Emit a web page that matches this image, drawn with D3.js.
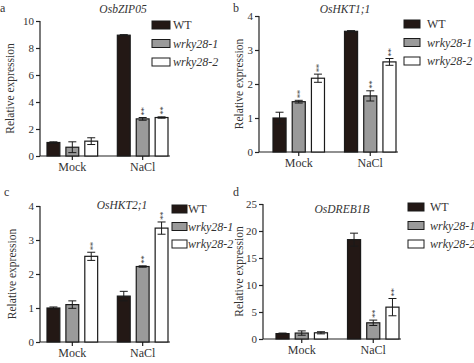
<!DOCTYPE html>
<html lang="en">
<head>
<meta charset="UTF-8">
<title>Relative expression panels</title>
<script src="https://cdn.jsdelivr.net/npm/d3@7/dist/d3.min.js"></script>
<style>
  body { margin: 0; background: #fff; }
  svg text { font-family: "Liberation Serif", "DejaVu Serif", serif; fill: #333; }
</style>
</head>
<body>
<script>
// shared categories
var groups = ["Mock", "NaCl"];
var series = ["WT", "wrky28-1", "wrky28-2"];
var titles = ["OsbZIP05", "OsHKT1;1", "OsHKT2;1", "OsDREB1B"];
var letters = ["a", "b", "c", "d"];

// means, in order Mock(WT, w1, w2), NaCl(WT, w1, w2)
var aMean = [1.0, 0.65, 1.1, 8.95, 2.75, 2.85];
var aErr  = [0.05, 0.4, 0.25, 0.04, 0.1, 0.05];
var aSig  = [0, 0, 0, 0, 1, 1];

var bMean = [1.0, 1.48, 2.17, 3.55, 1.65, 2.65];
var bErr  = [0.17, 0.04, 0.12, 0.02, 0.15, 0.1];
var bSig  = [0, 1, 1, 0, 1, 1];

var cMean = [1.0, 1.1, 2.52, 1.35, 2.22, 3.35];
var cErr  = [0.03, 0.11, 0.12, 0.14, 0.02, 0.18];
var cSig  = [0, 0, 1, 0, 1, 1];

var dMean = [1.0, 1.1, 1.15, 18.4, 3.0, 5.9];
var dErr  = [0.1, 0.4, 0.2, 1.2, 0.5, 1.6];
var dSig  = [0, 0, 0, 0, 1, 1];

var yMax   = [10, 4, 4, 25];
var yStep  = [2, 1, 1, 5];

var colors = d3.scaleOrdinal().domain(series).range(["#231815", "#9a9a9a", "#ffffff"]);

var W = 474, H = 363;
var svg = d3.select("body").append("svg").attr("width", W).attr("height", H);

// pixel layout for each panel
var layout = [
  {left: 40,  first: 47,  last: 168, top: 21,  bottom: 156, ylab: 14,  title: [123, 13],  letter: [0, 12],
   leg: {x: 152, y: 25, w: 18, gap: 3, dy: 18.5}},
  {left: 259, first: 273, last: 396, top: 16,  bottom: 152, ylab: 243, title: [345, 13],  letter: [233, 12],
   leg: {x: 404, y: 24, w: 16, gap: 7, dy: 18.5}},
  {left: 40,  first: 47,  last: 168, top: 206, bottom: 342, ylab: 16,  title: [122, 209], letter: [4, 196],
   leg: {x: 172, y: 209, w: 15, gap: 1, dy: 17.5}},
  {left: 263, first: 276, last: 399, top: 204, bottom: 339, ylab: 243, title: [342, 213], letter: [233, 196],
   leg: {x: 408, y: 207, w: 16, gap: 6, dy: 18.5}}
];

var means = [aMean, bMean, cMean, dMean];
var errs  = [aErr, bErr, cErr, dErr];
var sigs  = [aSig, bSig, cSig, dSig];
var serif = "Liberation Serif";

layout.forEach(function(L, p) {
  var g = svg.append("g");

  var y = d3.scaleLinear().domain([0, yMax[p]]).range([L.bottom, L.top]);
  var x0 = d3.scaleBand().domain(groups).range([L.first, L.last]).paddingInner(0.28);
  var x1 = d3.scaleBand().domain(series).range([0, x0.bandwidth()]).paddingInner(0.32);

  var rows = [];
  groups.forEach(function(gr, gi) {
    series.forEach(function(s, si) {
      var k = gi * 3 + si;
      rows.push({group: gr, s: s, v: means[p][k], e: errs[p][k], sig: sigs[p][k]});
    });
  });

  // y axis
  var yAxis = d3.axisLeft(y).tickValues(d3.range(0, yMax[p] + 0.001, yStep[p]))
                .tickSize(4).tickPadding(2).tickFormat(d3.format("d"));
  var ya = g.append("g").attr("transform", "translate(" + L.left + ",0)").call(yAxis)
            .attr("font-family", serif);
  ya.select(".domain").attr("stroke", "#222").attr("stroke-width", 1.2).attr("d", "M0," + L.top + "V" + L.bottom);
  ya.selectAll(".tick line").attr("stroke", "#222").attr("stroke-width", 1.2);
  ya.selectAll(".tick text").style("font-size", "11px").attr("fill", "#333");

  // x axis
  var xAxis = d3.axisBottom(x0).tickSize(4).tickPadding(2);
  var xa = g.append("g").attr("transform", "translate(0," + L.bottom + ")").call(xAxis)
            .attr("font-family", serif);
  xa.select(".domain").attr("stroke", "#222").attr("stroke-width", 1.2).attr("d", "M" + L.left + ",0H" + (L.last + 2));
  xa.selectAll(".tick line").attr("stroke", "#222").attr("stroke-width", 1.2);
  xa.selectAll(".tick text").style("font-size", "12px").attr("fill", "#333");

  // bars
  g.selectAll("rect.bar").data(rows).enter().append("rect").attr("class", "bar")
    .attr("x", function(d) { return x0(d.group) + x1(d.s); })
    .attr("y", function(d) { return y(d.v); })
    .attr("width", x1.bandwidth())
    .attr("height", function(d) { return L.bottom - y(d.v); })
    .attr("fill", function(d) { return colors(d.s); })
    .attr("stroke", "#1a1a1a").attr("stroke-width", 1.2);

  // error bars + significance marks
  rows.forEach(function(d) {
    var cx = x0(d.group) + x1(d.s) + x1.bandwidth() / 2;
    var lo = Math.max(d.v - d.e, 0), hi = d.v + d.e;
    g.append("line").attr("x1", cx).attr("x2", cx).attr("y1", y(lo)).attr("y2", y(hi))
      .attr("stroke", "#1a1a1a").attr("stroke-width", 1);
    [lo, hi].forEach(function(v) {
      g.append("line").attr("x1", cx - 4).attr("x2", cx + 4).attr("y1", y(v)).attr("y2", y(v))
        .attr("stroke", "#1a1a1a").attr("stroke-width", 1);
    });
    if (d.sig) {
      // "**" stacked vertically: one text turned on its side
      g.append("text")
        .attr("transform", "translate(" + (cx + 4.3) + "," + (y(hi) - 6) + ") rotate(-90)")
        .attr("text-anchor", "middle").style("font-size", "9px").style("letter-spacing", "-0.5px")
        .attr("fill", "#777").text("**");
    }
  });

  // y label
  g.append("text").attr("transform", "translate(" + L.ylab + "," + ((L.top + L.bottom) / 2) + ") rotate(-90)")
    .attr("text-anchor", "middle").style("font-size", "11.5px").text("Relative expression");

  // title
  g.append("text").attr("x", L.title[0]).attr("y", L.title[1]).attr("text-anchor", "middle")
    .style("font-size", "11.5px").style("font-style", "italic").text(titles[p]);

  // panel letter
  g.append("text").attr("x", L.letter[0]).attr("y", L.letter[1])
    .style("font-size", "12px").attr("fill", "#222").text(letters[p]);

  // legend
  var lg = g.append("g");
  series.forEach(function(s, i) {
    var yy = L.leg.y + i * L.leg.dy;
    lg.append("rect").attr("x", L.leg.x).attr("y", yy - 4).attr("width", L.leg.w).attr("height", 8)
      .attr("fill", colors(s)).attr("stroke", "#1a1a1a").attr("stroke-width", 1);
    lg.append("text").attr("x", L.leg.x + L.leg.w + L.leg.gap).attr("y", yy + 4)
      .style("font-size", "12px").style("font-style", i === 0 ? "normal" : "italic")
      .text(s);
  });
});
</script>
</body>
</html>
